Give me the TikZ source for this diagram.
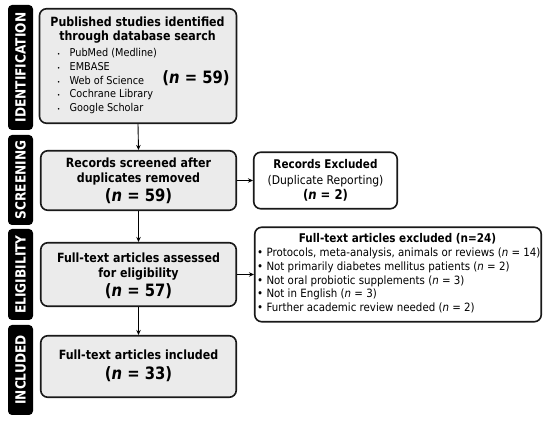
\documentclass[tikz,border=0pt]{standalone}
\usepackage{fontspec}
\setmainfont{DejaVu Sans}[FakeStretch=0.9]
\newfontfamily\headfont{DejaVu Sans}[FakeStretch=0.87]
\usetikzlibrary{arrows.meta}
\definecolor{boxgray}{HTML}{EBEBEB}
\newcommand{\ncount}[1]{(\textit{n} = #1)}

\begin{document}
\begin{tikzpicture}[x=1pt,y=-1pt,
  phase/.style={fill=black,rounded corners=4pt,rotate=90,minimum height=25pt,inner sep=0pt,text=white,font=\headfont\bfseries\fontsize{14}{14}\selectfont},
  stage/.style={draw=black!90,line width=1.6pt,rounded corners=7pt,fill=boxgray,inner sep=0pt},
  side/.style={draw=black!90,line width=1.6pt,rounded corners=7pt,fill=white,inner sep=0pt},
  head/.style={anchor=base,inner sep=0pt,font=\headfont\bfseries\fontsize{12.7}{15}\selectfont},
  bighead/.style={anchor=base,inner sep=0pt,font=\headfont\bfseries\fontsize{17}{17}\selectfont},
  item/.style={anchor=base west,inner sep=0pt,font=\fontsize{10.8}{13}\selectfont},
  flow/.style={line width=0.9pt,-{Stealth[length=5pt,width=4.5pt]}}]
  \useasboundingbox (0,0) rectangle (550,422);

  \node[phase,minimum width=125pt] (identification) at (20.5,67.5) {IDENTIFICATION};
  \node[phase,minimum width=90pt] (screening) at (20.5,180) {SCREENING};
  \node[phase,minimum width=91pt] (eligibility) at (20.5,274.5) {ELIGIBILITY};
  \node[phase,minimum width=90pt] (included) at (20.5,370) {INCLUDED};

  \node[stage,minimum width=197pt,minimum height=114.5pt] (published) at (138,66) {};
  \node[stage,minimum width=195.5pt,minimum height=59.5pt] (screened) at (138.5,180.5) {};
  \node[stage,minimum width=195.5pt,minimum height=63.5pt] (assessed) at (138.5,274.5) {};
  \node[stage,minimum width=195.5pt,minimum height=61.5pt] (final) at (138.5,366.5) {};
  \node[side,minimum width=143.5pt,minimum height=56.5pt] (dupes) at (325.5,180.5) {};
  \node[side,minimum width=286.5pt,minimum height=94.5pt] (excluded) at (398,274.5) {};

  \node[head] (published1) at (137.5,27) {Published studies identified};
  \node[head] (published2) at (137.5,41) {through database search};
  \node[item] (pubmed) at (57,57) {\makebox[12.5pt][l]{\fontsize{6}{6}\selectfont\textbullet}PubMed (Medline)};
  \node[item] (embase) at (57,71) {\makebox[12.5pt][l]{\fontsize{6}{6}\selectfont\textbullet}EMBASE};
  \node[item] (wos) at (57,84.5) {\makebox[12.5pt][l]{\fontsize{6}{6}\selectfont\textbullet}Web of Science};
  \node[item] (cochrane) at (57,98) {\makebox[12.5pt][l]{\fontsize{6}{6}\selectfont\textbullet}Cochrane Library};
  \node[item] (scholar) at (57,112) {\makebox[12.5pt][l]{\fontsize{6}{6}\selectfont\textbullet}Google Scholar};
  \node[bighead] (published3) at (196,83.5) {\ncount{59}};

  \node[head] (screened1) at (138.5,168) {Records screened after};
  \node[head] (screened2) at (138.5,183) {duplicates removed};
  \node[bighead] (screened3) at (138.5,201.5) {\ncount{59}};

  \node[head] (assessed1) at (138.5,263) {Full-text articles assessed};
  \node[head] (assessed2) at (138.5,278) {for eligibility};
  \node[bighead] (assessed3) at (138.5,296.5) {\ncount{57}};

  \node[head] (final1) at (138.5,360) {Full-text articles included};
  \node[bighead] (final2) at (138.5,379.5) {\ncount{33}};

  \node[head,font=\headfont\bfseries\fontsize{12}{14}\selectfont] (dupes1) at (325.5,169) {Records Excluded};
  \node[anchor=base,inner sep=0pt,font=\fontsize{12}{14}\selectfont] (dupes2) at (325.5,185) {(Duplicate Reporting)};
  \node[head,font=\headfont\bfseries\fontsize{13.4}{15}\selectfont] (dupes3) at (325.5,200) {\ncount{2}};

  \node[head,font=\headfont\bfseries\fontsize{12}{14}\selectfont] (excluded1) at (397.5,243) {Full-text articles excluded (n=24)};
  \node[item,font=\fontsize{11.4}{13}\selectfont] (protocols) at (257,257) {\textbullet\ Protocols, meta-analysis, animals or reviews \ncount{14}};
  \node[item,font=\fontsize{11.4}{13}\selectfont] (patients) at (257,271) {\textbullet\ Not primarily diabetes mellitus patients \ncount{2}};
  \node[item,font=\fontsize{11.4}{13}\selectfont] (oral) at (257,284.5) {\textbullet\ Not oral probiotic supplements \ncount{3}};
  \node[item,font=\fontsize{11.4}{13}\selectfont] (english) at (257,298) {\textbullet\ Not in English \ncount{3}};
  \node[item,font=\fontsize{11.4}{13}\selectfont] (review) at (257,312) {\textbullet\ Further academic review needed \ncount{2}};

  \draw[flow] (published.south) -- (screened.north);
  \draw[flow] (screened.south) -- (assessed.north);
  \draw[flow] (assessed.south) -- (final.north);
  \draw[flow] (screened.east) -- (dupes.west);
  \draw[flow] (assessed.east) -- (excluded.west);
\end{tikzpicture}
\end{document}
